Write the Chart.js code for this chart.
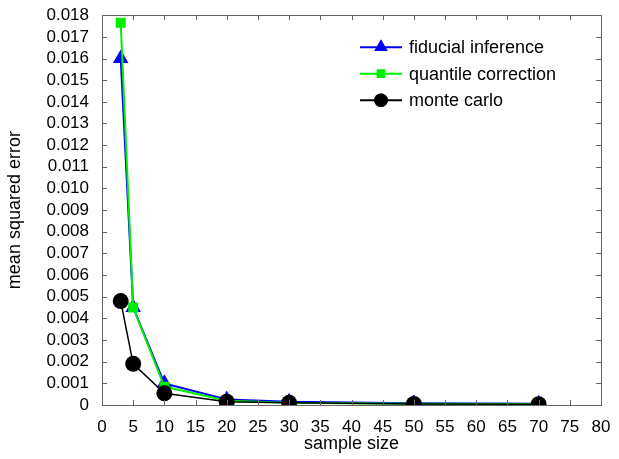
<!DOCTYPE html>
<html>
<head>
<meta charset="utf-8">
<script src="https://cdn.jsdelivr.net/npm/chart.js@4.4.0/dist/chart.umd.min.js"></script>
<style>
  html, body { margin: 0; padding: 0; background: #fff; }
  #wrap { width: 619px; height: 459px; }
</style>
</head>
<body>
<div id="wrap"><canvas id="myChart"></canvas></div>
<script>
(() => {
    'use strict'

    // data
    const sampleSizes = [3, 5, 10, 20, 30, 50, 70]
    const fiducial = [0.0160, 0.0045, 0.0010, 0.00025, 0.00015, 0.00008, 0.00006]
    const quantile = [0.01765, 0.0045, 0.00085, 0.0002, 0.0001, 0.00006, 0.00005]
    const monteCarlo = [0.0048, 0.0019, 0.00054, 0.00015, 0.0001, 0.00005, 0.00004]
    const seriesNames = ['fiducial inference', 'quantile correction', 'monte carlo']

    const font = '"Liberation Sans", Arial, sans-serif'
    const toPoints = ys => sampleSizes.map((x, i) => ({ x: x, y: ys[i] }))

    // box with inward ticks on all four sides
    const frame = {
        id: 'frame',
        afterDatasetsDraw(chart) {
            const { ctx, chartArea: a, scales } = chart
            ctx.save()
            ctx.strokeStyle = '#666'
            ctx.lineWidth = 1
            ctx.beginPath()
            scales.x.ticks.forEach(t => {
                const px = Math.round(scales.x.getPixelForValue(t.value)) + 0.5
                ctx.moveTo(px, a.bottom); ctx.lineTo(px, a.bottom - 5)
                ctx.moveTo(px, a.top); ctx.lineTo(px, a.top + 5)
            })
            scales.y.ticks.forEach(t => {
                const py = Math.round(scales.y.getPixelForValue(t.value)) + 0.5
                ctx.moveTo(a.left, py); ctx.lineTo(a.left + 5, py)
                ctx.moveTo(a.right, py); ctx.lineTo(a.right - 5, py)
            })
            ctx.stroke()
            ctx.strokeRect(Math.round(a.left) + 0.5, Math.round(a.top) + 0.5,
                Math.round(a.right - a.left), Math.round(a.bottom - a.top))
            ctx.restore()
        }
    }

    // legend with line + marker like the original
    const legendBox = {
        id: 'legendBox',
        afterDraw(chart) {
            const { ctx, chartArea: a } = chart
            const x0 = a.left + 258, y0 = a.top + 32, rowH = 26.5
            ctx.save()
            ctx.font = '18px ' + font
            ctx.textBaseline = 'middle'
            chart.data.datasets.slice().sort((p, q) => p.legendIndex - q.legendIndex).forEach((ds, i) => {
                const y = y0 + i * rowH
                ctx.strokeStyle = ds.borderColor
                ctx.lineWidth = 2
                ctx.beginPath(); ctx.moveTo(x0, y); ctx.lineTo(x0 + 42, y); ctx.stroke()
                ctx.fillStyle = ds.pointBackgroundColor
                Chart.helpers.drawPoint(ctx, {
                    pointStyle: ds.pointStyle, radius: ds.pointRadius * 0.85, rotation: 0, borderWidth: 0
                }, x0 + 21, y)
                ctx.fill()
                ctx.fillStyle = '#000'
                ctx.fillText(ds.label, x0 + 49, y + 1)
            })
            ctx.restore()
        }
    }

    const ctx = document.getElementById('myChart')
    new Chart(ctx, {
        type: 'line',
        data: {
            datasets: [
                {
                    label: seriesNames[0], legendIndex: 0, order: 2,
                    data: toPoints(fiducial),
                    borderColor: '#0000ff', backgroundColor: '#0000ff',
                    pointBackgroundColor: '#0000ff', pointBorderWidth: 0,
                    pointStyle: 'triangle', pointRadius: 9, borderWidth: 2, tension: 0
                },
                {
                    label: seriesNames[1], legendIndex: 1, order: 1,
                    data: toPoints(quantile),
                    borderColor: '#00ee00', backgroundColor: '#00ee00',
                    pointBackgroundColor: '#00ee00', pointBorderWidth: 0,
                    pointStyle: 'rect', pointRadius: 7, borderWidth: 2, tension: 0
                },
                {
                    label: seriesNames[2], legendIndex: 2, order: 0,
                    data: toPoints(monteCarlo),
                    borderColor: '#000000', backgroundColor: '#000000',
                    pointBackgroundColor: '#000000', pointBorderWidth: 0,
                    pointStyle: 'circle', pointRadius: 8, borderWidth: 1.5, tension: 0
                }
            ]
        },
        options: {
            responsive: true,
            maintainAspectRatio: false,
            animation: false,
            layout: { padding: { left: 0, right: 18, top: 15, bottom: 0 } },
            plugins: {
                legend: { display: false },
                tooltip: { enabled: false }
            },
            scales: {
                x: {
                    type: 'linear', min: 0, max: 80,
                    afterFit: s => { s.height = 54 },
                    grid: { display: false },
                    border: { display: false },
                    ticks: { stepSize: 5, color: '#000', font: { family: font, size: 17 }, padding: 4, maxRotation: 0, autoSkip: false },
                    title: { display: true, text: 'sample size', color: '#000', font: { family: font, size: 18 }, padding: { top: 0 } }
                },
                y: {
                    type: 'linear', min: 0, max: 0.018,
                    afterFit: s => { s.width = 102 },
                    grid: { display: false },
                    border: { display: false },
                    ticks: {
                        stepSize: 0.001, color: '#000', font: { family: font, size: 17 }, padding: 5, autoSkip: false,
                        callback: v => v === 0 ? '0' : v.toFixed(3)
                    },
                    title: { display: true, text: 'mean squared error', color: '#000', font: { family: font, size: 18 }, padding: { top: 4, bottom: 0 } }
                }
            }
        },
        plugins: [frame, legendBox]
    })
})()
</script>
</body>
</html>
